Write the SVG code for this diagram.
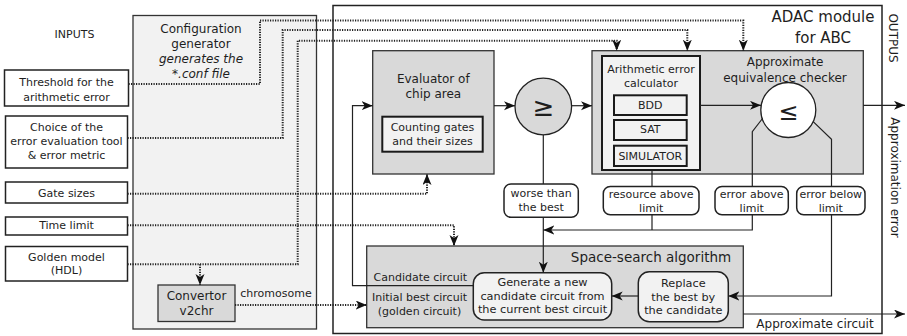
<svg xmlns="http://www.w3.org/2000/svg" width="907" height="336" viewBox="0 0 907 336">
<style>
text{font-family:"DejaVu Sans","Liberation Sans",sans-serif;fill:#1e1e1e;text-anchor:middle}
.f11{font-size:11px}.f12{font-size:12px}
.box{fill:#fff;stroke:#222;stroke-width:1.5}
.light{fill:#f2f2f2;stroke:#333;stroke-width:1.3}
.gray{fill:#d9d9d9;stroke:#333;stroke-width:1.3}
.inner{fill:#f2f2f2;stroke:#1a1a1a;stroke-width:2}
.rnd{fill:#fff;stroke:#222;stroke-width:1.5}
.line{fill:none;stroke:#222;stroke-width:1.2}
.dot{fill:none;stroke:#222;stroke-width:2;stroke-dasharray:1.2 1.3}
</style>
<defs>
<marker id="ah" markerUnits="userSpaceOnUse" markerWidth="12" markerHeight="10" refX="11" refY="4.5" orient="auto">
<path d="M0,0 L11,4.5 L0,9 L3,4.5 z" fill="#111"/>
</marker>
</defs>

<g id="inputs-label"><text class="f11" x="74.5" y="38">INPUTS</text></g>

<g id="config-generator">
<rect class="light" x="133" y="15.5" width="183.5" height="313.5"/>
<text class="f12" x="201" y="33.3">Configuration</text>
<text class="f12" x="201" y="48.3">generator</text>
<text class="f12" x="201" y="63.3" font-style="italic">generates the</text>
<text class="f12" x="201" y="78.3" font-style="italic">*.conf file</text>
</g>

<g id="adac-module">
<rect class="box" x="333" y="5.5" width="549" height="328" stroke-width="1.3"/>
<text x="823" y="22" font-size="15">ADAC module</text>
<text x="823" y="42.7" font-size="15">for ABC</text>
</g>

<g id="input-threshold">
<rect class="box" x="4.5" y="70" width="124" height="36"/>
<text class="f11" x="66.5" y="86">Threshold for the</text>
<text class="f11" x="66.5" y="101">arithmetic error</text>
</g>
<g id="input-choice">
<rect class="box" x="5.5" y="116" width="122" height="52"/>
<text class="f11" x="66.5" y="131">Choice of the</text>
<text class="f11" x="66.5" y="145">error evaluation tool</text>
<text class="f11" x="66.5" y="158.5">&amp; error metric</text>
</g>
<g id="input-gates">
<rect class="box" x="5.5" y="182" width="122" height="21"/>
<text class="f11" x="66.5" y="196.7">Gate sizes</text>
</g>
<g id="input-time">
<rect class="box" x="5.5" y="217" width="122" height="18"/>
<text class="f11" x="66.5" y="229">Time limit</text>
</g>
<g id="input-golden">
<rect class="box" x="5.5" y="246.5" width="122" height="34.5"/>
<text class="f11" x="66.5" y="260.7">Golden model</text>
<text class="f11" x="66.5" y="274">(HDL)</text>
</g>

<g id="convertor">
<rect class="gray" x="158" y="285" width="77" height="36.5"/>
<text class="f12" x="196.5" y="300.3">Convertor</text>
<text class="f12" x="196.5" y="315">v2chr</text>
</g>
<g id="chromosome-label"><text class="f11" x="276" y="297">chromosome</text></g>

<g id="evaluator">
<rect class="gray" x="372.7" y="50.7" width="121.3" height="123.3"/>
<text class="f12" x="433.3" y="83.3">Evaluator of</text>
<text class="f12" x="433.3" y="98.3">chip area</text>
<rect class="inner" x="382.3" y="116.7" width="100.4" height="35"/>
<text class="f11" x="432.5" y="131.3">Counting gates</text>
<text class="f11" x="432.5" y="144.7">and their sizes</text>
</g>

<g id="geq">
<circle cx="543.3" cy="106.5" r="28.3" fill="#d9d9d9" stroke="#222" stroke-width="1.3"/>
<text x="543.3" y="115.5" font-size="26">≥</text>
</g>

<g id="equivalence-checker">
<rect class="gray" x="592" y="50.7" width="271.3" height="123.3"/>
<text class="f12" x="785" y="66">Approximate</text>
<text class="f12" x="785" y="81.6">equivalence checker</text>
<rect class="inner" x="602" y="56" width="98" height="114"/>
<text class="f11" x="651" y="73.3">Arithmetic error</text>
<text class="f11" x="651" y="87.3">calculator</text>
<rect class="inner" x="614" y="95.3" width="72.7" height="19.7"/>
<text class="f11" x="650.3" y="109">BDD</text>
<rect class="inner" x="614" y="120" width="72.7" height="20"/>
<text class="f11" x="650.3" y="133.3">SAT</text>
<rect class="inner" x="614" y="145.7" width="72.7" height="20.3"/>
<text class="f11" x="650.3" y="159.7">SIMULATOR</text>
</g>

<g id="leq">
<circle cx="788.3" cy="110" r="27.5" fill="#fff" stroke="#222" stroke-width="1.3"/>
<text x="788.3" y="119.5" font-size="24">≤</text>
</g>

<g id="worse">
<rect class="rnd" x="504" y="184" width="74.3" height="33.3" rx="7"/>
<text class="f11" x="541.2" y="197.3">worse than</text>
<text class="f11" x="541.2" y="210.7">the best</text>
</g>
<g id="resource-above">
<rect class="rnd" x="603.3" y="186.5" width="95.7" height="28.3" rx="7"/>
<text class="f11" x="651.2" y="198.3">resource above</text>
<text class="f11" x="651.2" y="211.7">limit</text>
</g>
<g id="error-above">
<rect class="rnd" x="715" y="186.5" width="73.3" height="28.3" rx="7"/>
<text class="f11" x="751.7" y="198.3">error above</text>
<text class="f11" x="751.7" y="211.7">limit</text>
</g>
<g id="error-below">
<rect class="rnd" x="796.7" y="186.5" width="68.3" height="28.3" rx="7"/>
<text class="f11" x="830.8" y="198.3">error below</text>
<text class="f11" x="830.8" y="211.7">limit</text>
</g>

<g id="space-search">
<rect class="gray" x="366.7" y="246" width="376.6" height="81.7"/>
<text x="651" y="261.6" font-size="13.5">Space-search algorithm</text>
<text class="f11" x="420.3" y="281.3">Candidate circuit</text>
<text class="f11" x="419.5" y="301.3">Initial best circuit</text>
<text class="f11" x="419.5" y="314.7">(golden circuit)</text>
</g>
<g id="generate">
<rect x="473.3" y="272.7" width="138.4" height="47.3" rx="11" fill="#f2f2f2" stroke="#222" stroke-width="1.5"/>
<text x="542.5" y="285.7" font-size="11.3">Generate a new</text>
<text x="542.5" y="300" font-size="11.3">candidate circuit from</text>
<text x="542.5" y="313.3" font-size="11.3">the current best circuit</text>
</g>
<g id="replace">
<rect x="638.3" y="271.7" width="90" height="50" rx="11" fill="#f2f2f2" stroke="#222" stroke-width="1.5"/>
<text x="683.3" y="286.7" font-size="11.3">Replace</text>
<text x="683.3" y="300.7" font-size="11.3">the best by</text>
<text x="683.3" y="314" font-size="11.3">the candidate</text>
</g>

<g id="outputs">
<text class="f12" transform="translate(893,38) rotate(90)" x="0" y="4.3">OUTPUS</text>
<text class="f12" transform="translate(895,177.5) rotate(90)" x="0" y="4.3">Approximation error</text>
<text class="f12" x="815" y="328.3">Approximate circuit</text>
</g>

<g id="connectors">
<!-- dotted inputs -->
<path class="dot" d="M128.5,84 H260 V20.5 H743.3 V50.7" marker-end="url(#ah)"/>
<path class="dot" d="M127.5,138 H282.7 V30 H687.3 V50.7" marker-end="url(#ah)"/>
<path class="dot" d="M127.5,264.3 H297.7 V40.7 H616.7 V50.7" marker-end="url(#ah)"/>
<path class="dot" d="M200,264.3 V285" marker-end="url(#ah)"/>
<path class="dot" d="M127.5,193.7 H427 V174" marker-end="url(#ah)"/>
<path class="dot" d="M127.5,225.3 H454 V246" marker-end="url(#ah)"/>
<path class="dot" d="M235,305 H366.7" marker-end="url(#ah)"/>
<!-- solid -->
<path class="line" d="M473.3,285.7 H352.5 V105.7 H372.7" marker-end="url(#ah)"/>
<path class="line" d="M494,105.7 H515" marker-end="url(#ah)"/>
<path class="line" d="M571.6,105.7 H592" marker-end="url(#ah)"/>
<path class="line" d="M700,105.3 H761" marker-end="url(#ah)"/>
<path class="line" d="M543.3,134.8 V184"/>
<path class="line" d="M543.3,217.3 V272.7" marker-end="url(#ah)"/>
<path class="line" d="M652,170 V186.5"/>
<path class="line" d="M652,214.8 V230 M752.3,214.8 V230 H543.3" marker-end="url(#ah)"/>
<path class="line" d="M762.5,118.5 L752.3,131.7 V186.5"/>
<path class="line" d="M813.2,121.6 L831.5,139.3 V186.5"/>
<path class="line" d="M831.5,214.8 V296 H728.3" marker-end="url(#ah)"/>
<path class="line" d="M638.3,296 H611.7" marker-end="url(#ah)"/>
<path class="line" d="M863.3,105.3 H905" marker-end="url(#ah)"/>
<path class="line" d="M743.3,314 H905" marker-end="url(#ah)"/>
</g>
</svg>
